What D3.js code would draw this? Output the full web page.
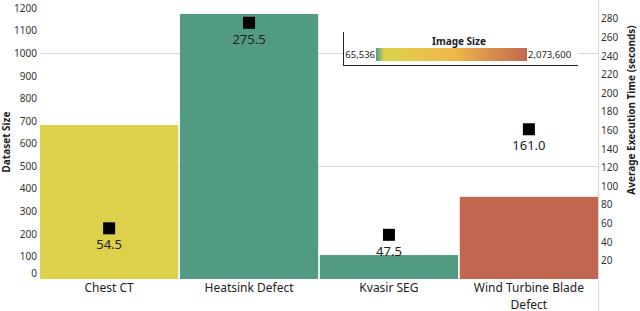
<!DOCTYPE html>
<html>
<head>
<meta charset="utf-8">
<script src="https://cdn.jsdelivr.net/npm/d3@7"></script>
<style>
  body { margin: 0; background: #fff; }
  svg text { font-family: "Noto Sans", "Open Sans", sans-serif; }
</style>
</head>
<body>
<div id="chart"></div>
<script>
// data
var datasets = ["Chest CT", "Heatsink Defect", "Kvasir SEG", "Wind Turbine Blade Defect"];
var datasetSize = [682, 1174, 106, 364];
var execTime = [54.5, 275.5, 47.5, 161.0];
var imageSize = [262144, 65536, 65536, 2073600];
var leftTicks = [0, 100, 200, 300, 400, 500, 600, 700, 800, 900, 1000, 1100, 1200];
var rightTicks = [20, 40, 60, 80, 100, 120, 140, 160, 180, 200, 220, 240, 260, 280];
var gridValues = [500, 1000];
var colorDomain = [65536, 170000, 262144, 1100000, 2073600];
var colorRange = ["#519a84", "#d6cf4c", "#ddd04a", "#f0b74a", "#c2674f"];

var width = 640;
var height = 311;
var margin = { top: 0, right: 42, bottom: 32, left: 40 };
var baseY = height - margin.bottom;

var svg = d3.select("#chart")
    .append("svg")
    .attr("width", width)
    .attr("height", height);

/* ****** Scales ****** */
var x = d3.scaleBand()
    .domain(datasets)
    .range([margin.left, width - margin.right])
    .paddingInner(0.012);

var yLeft = d3.scaleLinear()
    .domain([0, 1236])
    .range([baseY, 0]);

var yRight = d3.scaleLinear()
    .domain([0, 300])
    .range([baseY, 0]);

var color = d3.scaleLinear()
    .domain(colorDomain)
    .range(colorRange);

/* ****** Gridlines ****** */
svg.append("g")
    .selectAll("line")
    .data(gridValues)
    .enter()
    .append("line")
    .attr("x1", margin.left)
    .attr("x2", width - margin.right)
    .attr("y1", function(d) { return Math.round(yLeft(d)) + 0.5; })
    .attr("y2", function(d) { return Math.round(yLeft(d)) + 0.5; })
    .attr("stroke", "#d9d9d9")
    .attr("stroke-width", 1);

/* ****** Bars ****** */
svg.append("g")
    .selectAll("rect")
    .data(datasets)
    .enter()
    .append("rect")
    .attr("x", function(d) { return x(d); })
    .attr("width", x.bandwidth())
    .attr("y", function(d, i) { return yLeft(datasetSize[i]); })
    .attr("height", function(d, i) { return baseY - yLeft(datasetSize[i]); })
    .attr("fill", function(d, i) { return color(imageSize[i]); });

/* ****** Markers + labels ****** */
var marks = svg.append("g")
    .selectAll("g")
    .data(datasets)
    .enter()
    .append("g")
    .attr("transform", function(d, i) {
        return "translate(" + (x(d) + x.bandwidth() / 2) + "," + yRight(execTime[i]) + ")";
    });

marks.append("rect")
    .attr("x", -6)
    .attr("y", -6)
    .attr("width", 12)
    .attr("height", 12)
    .attr("fill", "#000");

marks.append("text")
    .attr("y", 21)
    .attr("text-anchor", "middle")
    .attr("font-size", 13)
    .attr("fill", "#222")
    .text(function(d, i) { return execTime[i].toFixed(1); });

/* ****** Left axis ****** */
var leftAxis = svg.append("g")
    .attr("transform", "translate(" + margin.left + ",0)")
    .call(d3.axisLeft(yLeft).tickValues(leftTicks).tickFormat(d3.format("d")).tickSize(0).tickPadding(3));
leftAxis.select(".domain").remove();
leftAxis.selectAll("text")
    .attr("font-size", 10)
    .attr("fill", "#333")
    .attr("dy", function(d) { return d === 0 ? "-0.3em" : "0.32em"; });

svg.append("text")
    .attr("transform", "translate(10,142) rotate(-90)")
    .attr("text-anchor", "middle")
    .attr("font-size", 10)
    .attr("font-weight", "bold")
    .attr("fill", "#222")
    .text("Dataset Size");

/* ****** Right axis ****** */
var axisX = width - margin.right;
svg.append("line")
    .attr("x1", axisX + 0.5)
    .attr("x2", axisX + 0.5)
    .attr("y1", 0)
    .attr("y2", height)
    .attr("stroke", "#d9d9d9");

var rightAxis = svg.append("g")
    .attr("transform", "translate(" + axisX + ",0)")
    .call(d3.axisRight(yRight).tickValues(rightTicks).tickSize(0).tickPadding(3));
rightAxis.select(".domain").remove();
rightAxis.selectAll("text")
    .attr("font-size", 10)
    .attr("fill", "#333");

svg.append("text")
    .attr("transform", "translate(635,110) rotate(-90)")
    .attr("text-anchor", "middle")
    .attr("font-size", 10)
    .attr("font-weight", "bold")
    .attr("fill", "#222")
    .text("Average Execution Time (seconds)");

/* ****** Category labels ****** */
var catLines = datasets.map(function(d) {
    return d === "Wind Turbine Blade Defect" ? ["Wind Turbine Blade", "Defect"] : [d];
});

datasets.forEach(function(d, i) {
    catLines[i].forEach(function(l, k) {
        svg.append("text")
            .attr("x", x(d) + x.bandwidth() / 2)
            .attr("y", baseY + 13 + k * 16.5)
            .attr("text-anchor", "middle")
            .attr("font-size", 12)
            .attr("fill", "#222")
            .text(l);
    });
});

/* ****** Legend ****** */
var legend = svg.append("g").attr("transform", "translate(343,32)");

legend.append("rect")
    .attr("x", 0)
    .attr("y", 0)
    .attr("width", 235)
    .attr("height", 34)
    .attr("fill", "#fff");

legend.append("line")
    .attr("x1", 0.5).attr("x2", 0.5)
    .attr("y1", 0).attr("y2", 34)
    .attr("stroke", "#222");
legend.append("line")
    .attr("x1", 0).attr("x2", 235)
    .attr("y1", 33.5).attr("y2", 33.5)
    .attr("stroke", "#222");

legend.append("text")
    .attr("x", 116)
    .attr("y", 13)
    .attr("text-anchor", "middle")
    .attr("font-size", 10)
    .attr("font-weight", "bold")
    .attr("fill", "#222")
    .text("Image Size");

var grad = svg.append("defs")
    .append("linearGradient")
    .attr("id", "imgGrad");

var gx = d3.scaleLinear()
    .domain([colorDomain[0], colorDomain[colorDomain.length - 1]])
    .range([0, 100]);

grad.selectAll("stop")
    .data(colorDomain)
    .enter()
    .append("stop")
    .attr("offset", function(d) { return gx(d) + "%"; })
    .attr("stop-color", function(d) { return color(d); });

legend.append("rect")
    .attr("x", 33)
    .attr("y", 16)
    .attr("width", 151)
    .attr("height", 13)
    .attr("fill", "url(#imgGrad)");

legend.append("text")
    .attr("x", 32)
    .attr("y", 26)
    .attr("text-anchor", "end")
    .attr("font-size", 9.5)
    .attr("fill", "#222")
    .text(d3.format(",")(colorDomain[0]));

legend.append("text")
    .attr("x", 185)
    .attr("y", 26)
    .attr("font-size", 9.5)
    .attr("fill", "#222")
    .text(d3.format(",")(colorDomain[colorDomain.length - 1]));
</script>
</body>
</html>
